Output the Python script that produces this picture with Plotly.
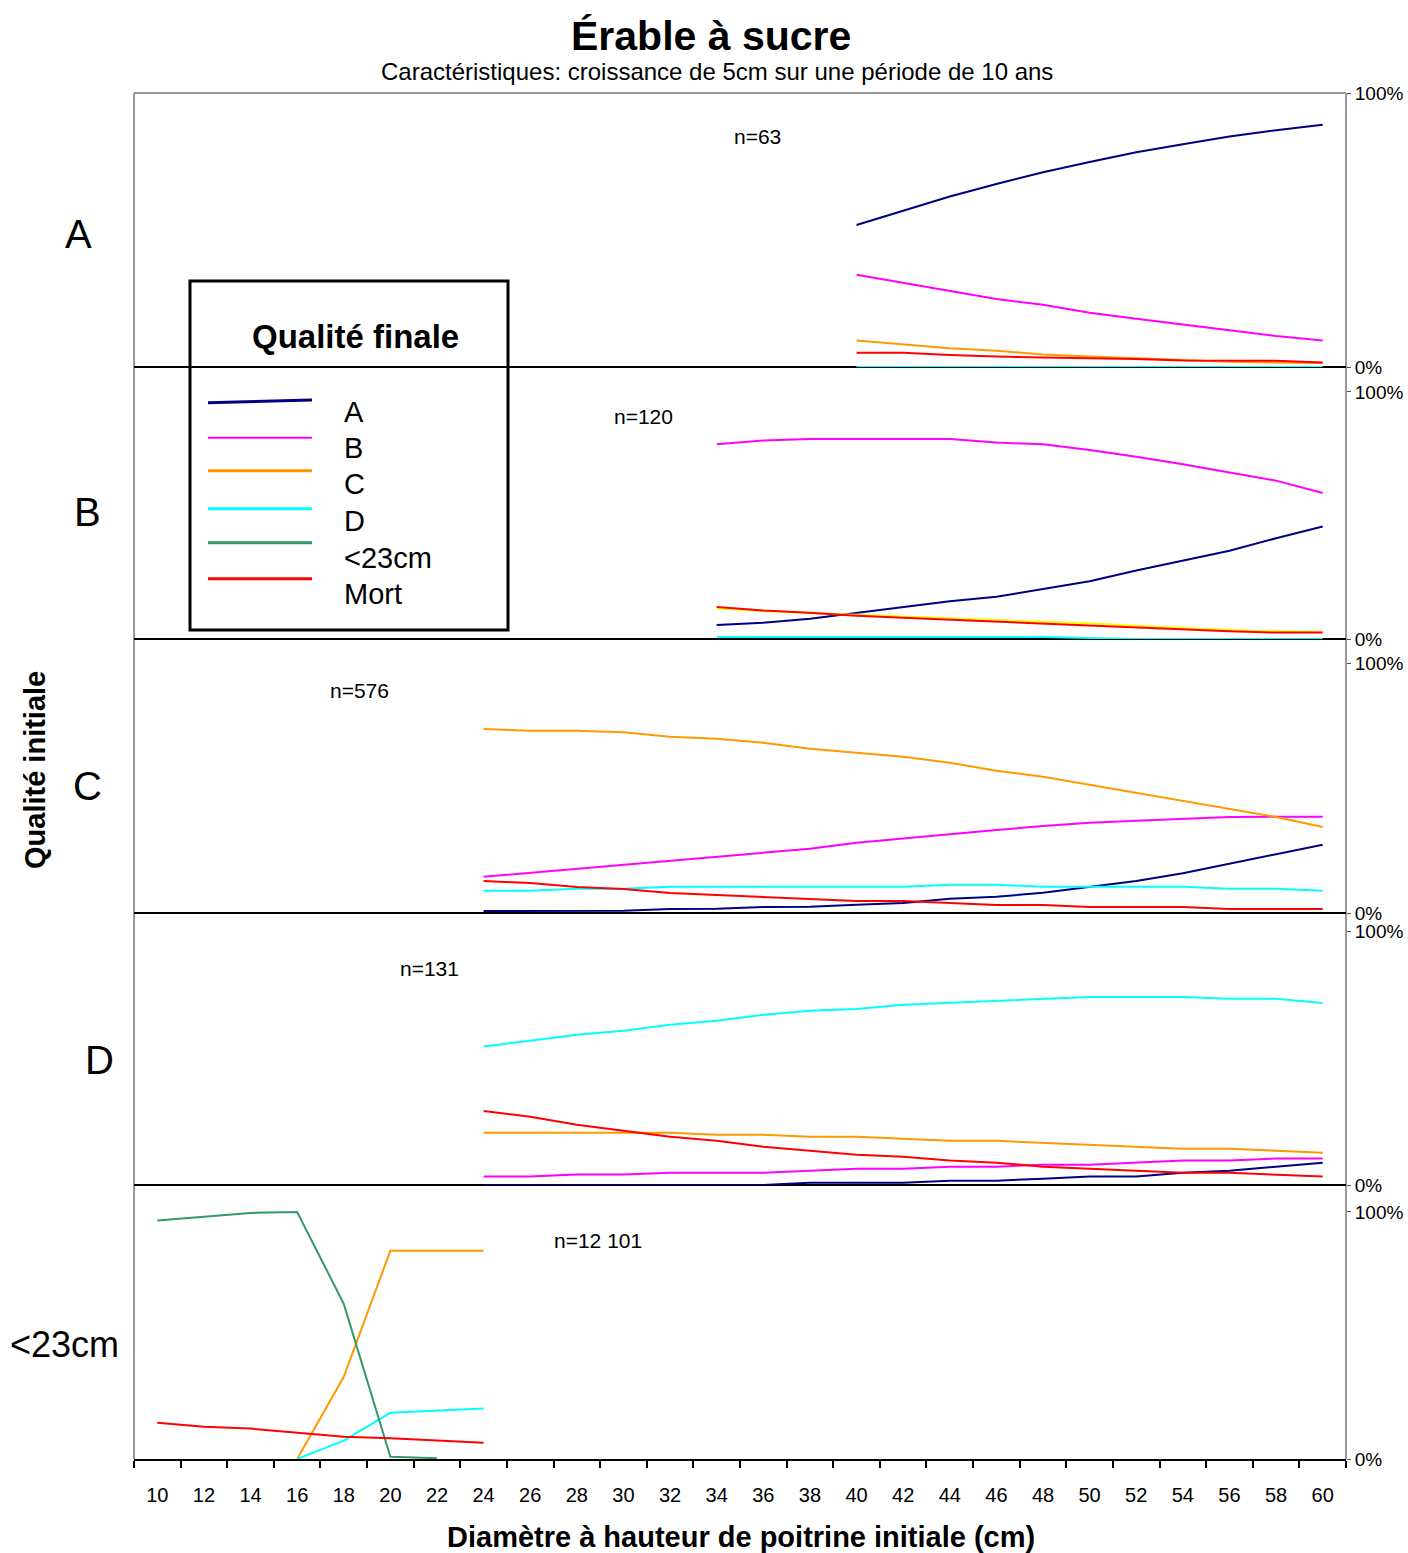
import plotly.graph_objects as go

# ---------------- data ----------------
x_categories = [10, 12, 14, 16, 18, 20, 22, 24, 26, 28, 30, 32, 34, 36, 38, 40, 42, 44, 46, 48, 50, 52, 54, 56, 58, 60]

# Initial quality A (n=63)
x_A = [40, 42, 44, 46, 48, 50, 52, 54, 56, 58, 60]
A_finA = [51.8, 56.9, 62.2, 66.8, 71.1, 74.8, 78.4, 81.3, 84.1, 86.4, 88.4]
A_finB = [33.7, 30.8, 27.8, 24.8, 22.7, 19.8, 17.6, 15.6, 13.4, 11.3, 9.7]
A_finC = [9.7, 8.3, 6.8, 5.9, 4.6, 3.8, 3.2, 2.4, 1.9, 1.6, 1.5]
A_finD = [0, 0, 0, 0, 0, 0, 0, 0, 0, 0, 0]
A_mort = [5.2, 5.2, 4.4, 3.8, 3.5, 3.3, 2.9, 2.4, 2.3, 2.3, 1.6]

# Initial quality B (n=120)
x_B = [34, 36, 38, 40, 42, 44, 46, 48, 50, 52, 54, 56, 58, 60]
B_finA = [5.7, 6.6, 8.2, 10.6, 13.1, 15.3, 17.1, 20.1, 23.4, 27.7, 31.7, 35.7, 40.8, 45.5]
B_finB = [78.8, 80.3, 81.0, 81.0, 81.0, 81.0, 79.5, 78.8, 76.5, 73.8, 70.7, 67.5, 64.1, 59.1]
B_finC = [12.3, 11.3, 10.4, 9.8, 9.0, 8.4, 7.7, 7.0, 6.4, 5.4, 4.5, 3.6, 3.1, 2.8]
B_finD = [0.8, 0.8, 0.8, 0.8, 0.8, 0.8, 0.8, 0.8, 0.4, 0, 0, 0, 0, 0]
B_mort = [13.0, 11.5, 10.6, 9.4, 8.6, 7.8, 7.2, 6.4, 5.5, 4.7, 3.9, 3.1, 2.6, 2.6]

# Initial quality C (n=576)
x_C = [24, 26, 28, 30, 32, 34, 36, 38, 40, 42, 44, 46, 48, 50, 52, 54, 56, 58, 60]
C_finA = [0.8, 0.8, 0.8, 0.9, 1.6, 1.7, 2.4, 2.5, 3.3, 4.0, 5.7, 6.5, 8.1, 10.5, 12.8, 15.9, 19.6, 23.6, 27.3]
C_finB = [14.5, 16.1, 17.9, 19.6, 21.2, 22.8, 24.3, 25.7, 28.1, 29.9, 31.5, 33.2, 34.8, 36.1, 36.9, 37.6, 38.4, 38.5, 38.5]
C_finC = [73.6, 72.9, 72.9, 72.3, 70.5, 69.7, 68.1, 65.7, 64.1, 62.5, 60.1, 56.9, 54.5, 51.3, 48.1, 44.8, 41.6, 38.4, 34.4]
C_finD = [8.9, 8.9, 9.7, 9.7, 10.5, 10.5, 10.5, 10.5, 10.5, 10.5, 11.3, 11.3, 10.5, 10.5, 10.5, 10.5, 9.7, 9.7, 8.9]
C_mort = [12.8, 12.0, 10.4, 9.6, 8.0, 7.2, 6.4, 5.6, 4.8, 4.8, 4.0, 3.2, 3.2, 2.4, 2.4, 2.4, 1.6, 1.6, 1.6]

# Initial quality D (n=131)
x_D = [24, 26, 28, 30, 32, 34, 36, 38, 40, 42, 44, 46, 48, 50, 52, 54, 56, 58, 60]
D_finA = [0, 0, 0, 0, 0, 0, 0, 0.9, 0.9, 0.9, 1.7, 1.7, 2.5, 3.3, 3.3, 4.8, 5.6, 7.2, 8.8]
D_finB = [3.3, 3.3, 4.1, 4.1, 4.8, 4.8, 4.8, 5.6, 6.4, 6.4, 7.2, 7.2, 8.0, 8.0, 8.8, 9.6, 9.6, 10.4, 10.4]
D_finC = [20.6, 20.6, 20.6, 20.6, 20.6, 19.8, 19.8, 19.0, 19.0, 18.2, 17.4, 17.4, 16.7, 15.9, 15.1, 14.3, 14.3, 13.5, 12.7]
D_finD = [54.5, 56.8, 59.2, 60.7, 63.1, 64.7, 67.0, 68.6, 69.3, 71.0, 71.8, 72.4, 73.2, 74.0, 74.0, 74.0, 73.3, 73.3, 71.7]
D_mort = [29.1, 26.9, 23.7, 21.4, 19.0, 17.4, 15.1, 13.5, 11.9, 11.1, 9.6, 8.8, 7.2, 6.4, 5.6, 4.8, 4.8, 4.1, 3.3]

# Initial quality <23cm (n=12 101)
x_E = [10, 12, 14, 16, 18, 20, 22, 24]
E_finC = [None, None, None, 0, 33.3, 84.3, 84.3, 84.3]
E_finD = [None, None, None, 0, 7.4, 18.7, 19.6, 20.4]
E_small = [96.5, 97.9, 99.6, 100.0, 62.8, 0.9, 0.3, None]
E_mort = [14.7, 13.1, 12.3, 10.6, 9.0, 8.4, 7.4, 6.6]

panel_labels = ["A", "B", "C", "D", "<23cm"]
panel_counts = ["n=63", "n=120", "n=576", "n=131", "n=12 101"]
legend_labels = ["A", "B", "C", "D", "<23cm", "Mort"]

# ---------------- styling ----------------
FONT = "Liberation Sans, Arial, sans-serif"
COL = {"A": "#000080", "B": "#FF00FF", "C": "#FF9900", "D": "#00FFFF",
       "<23cm": "#339966", "Mort": "#FF0000", "Cy": "#FFFF00"}

W, H = 1408, 1553
ML, MR, MT, MB = 134, 62, 93, 94
PW = W - ML - MR
PH = H - MT - MB


def px(x):
    return (x - ML) / PW


def py(y):
    return (H - MB - y) / PH


bounds = [93, 367, 639, 913, 1185, 1459]
tops = [100, 110.1, 109.6, 107.1, 110.9]
axis_names = ["y", "y2", "y3", "y4", "y5"]

panels = [
    (x_A, [("A", A_finA, COL["A"]), ("B", A_finB, COL["B"]), ("C", A_finC, COL["C"]),
           ("D", A_finD, COL["D"]), ("Mort", A_mort, COL["Mort"])]),
    (x_B, [("A", B_finA, COL["A"]), ("B", B_finB, COL["B"]), ("C", B_finC, COL["Cy"]),
           ("D", B_finD, COL["D"]), ("Mort", B_mort, COL["Mort"])]),
    (x_C, [("A", C_finA, COL["A"]), ("B", C_finB, COL["B"]), ("C", C_finC, COL["C"]),
           ("D", C_finD, COL["D"]), ("Mort", C_mort, COL["Mort"])]),
    (x_D, [("A", D_finA, COL["A"]), ("B", D_finB, COL["B"]), ("C", D_finC, COL["C"]),
           ("D", D_finD, COL["D"]), ("Mort", D_mort, COL["Mort"])]),
    (x_E, [("C", E_finC, COL["C"]), ("D", E_finD, COL["D"]),
           ("<23cm", E_small, COL["<23cm"]), ("Mort", E_mort, COL["Mort"])]),
]

fig = go.Figure()
for i, (xs, series) in enumerate(panels):
    for name, vals, color in series:
        fig.add_trace(go.Scatter(
            x=xs, y=vals, mode="lines", name=name, showlegend=False,
            line=dict(color=color, width=2), connectgaps=False,
            xaxis="x", yaxis=axis_names[i],
        ))

layout_axes = {}
for i in range(5):
    key = "yaxis" if i == 0 else "yaxis%d" % (i + 1)
    layout_axes[key] = dict(
        domain=[py(bounds[i + 1]), py(bounds[i])],
        range=[0, tops[i]], side="right", anchor="x",
        tickmode="array", tickvals=[0, 100], ticktext=["0%", "100%"],
        ticks="outside", ticklen=4, tickwidth=1, tickcolor="#555555",
        tickfont=dict(size=19, color="black", family=FONT),
        showgrid=False, zeroline=False, showline=False, fixedrange=True,
    )

fig.update_layout(
    width=W, height=H,
    margin=dict(l=ML, r=MR, t=MT, b=MB, autoexpand=False),
    paper_bgcolor="white", plot_bgcolor="white",
    font=dict(family=FONT, color="black"),
    xaxis=dict(
        range=[9, 61], anchor="y5", tickmode="array",
        tickvals=x_categories, ticktext=[str(v) for v in x_categories],
        ticks="outside", ticklen=17, tickcolor="rgba(0,0,0,0)",
        tickfont=dict(size=20, color="black", family=FONT),
        showline=True, linecolor="black", linewidth=2,
        showgrid=False, zeroline=False, fixedrange=True,
        minor=dict(tickmode="array", tickvals=[v - 1 for v in x_categories] + [61],
                   ticks="outside", ticklen=7, tickwidth=2, tickcolor="black",
                   showgrid=False),
    ),
    **layout_axes,
)

shapes = []
# plot frame (gray) left, top, right
for (x0, y0, x1, y1) in [(0, 0, 0, 1), (0, 1, 1, 1), (1, 0, 1, 1)]:
    shapes.append(dict(type="line", xref="paper", yref="paper", x0=x0, y0=y0, x1=x1, y1=y1,
                       line=dict(color="#999999", width=2), layer="below"))
# panel separators (0% lines)
for b in bounds[1:5]:
    shapes.append(dict(type="line", xref="paper", yref="paper", x0=0, x1=1, y0=py(b), y1=py(b),
                       line=dict(color="black", width=2), layer="below"))
# legend box
shapes.append(dict(type="rect", xref="paper", yref="paper",
                   x0=px(190), x1=px(508), y0=py(630), y1=py(281),
                   line=dict(color="black", width=3), fillcolor="rgba(0,0,0,0)", layer="above"))
legend_colors = [COL["A"], COL["B"], COL["C"], COL["D"], COL["<23cm"], COL["Mort"]]
legend_line_y = [(402.7, 400.0), (437.7, 437.7), (470.7, 470.7), (508.7, 508.7), (542.7, 542.7), (578.7, 578.7)]
legend_line_w = [3, 2, 3, 3, 3, 3]
legend_text_y = [412, 448, 484, 521, 558, 594]
for c, (ya, yb), lw in zip(legend_colors, legend_line_y, legend_line_w):
    shapes.append(dict(type="line", xref="paper", yref="paper", x0=px(208), x1=px(312),
                       y0=py(ya), y1=py(yb), line=dict(color=c, width=lw), layer="above"))
fig.update_layout(shapes=shapes)

ann = []


def text(x, y, s, size, bold=False, xanchor="center", angle=0):
    ann.append(dict(x=px(x), y=py(y), xref="paper", yref="paper", showarrow=False,
                    text=("<b>%s</b>" % s) if bold else s, textangle=angle,
                    xanchor=xanchor, yanchor="middle",
                    font=dict(size=size, color="black", family=FONT)))


text(711, 36, "Érable à sucre", 41, bold=True)
text(717, 71, "Caractéristiques: croissance de 5cm sur une période de 10 ans", 24)
text(741, 1537, "Diamètre à hauteur de poitrine initiale (cm)", 29, bold=True)
text(35, 770, "Qualité initiale", 29, bold=True, angle=-90)

label_pos = [(78, 234), (87, 512), (87, 786), (99, 1060), (64, 1344)]
label_size = [40, 40, 40, 40, 36]
for (x, y), s, fs in zip(label_pos, panel_labels, label_size):
    text(x, y, s, fs)
count_pos = [(757, 136), (643, 416), (359, 690), (429, 968), (598, 1240)]
for (x, y), s in zip(count_pos, panel_counts):
    text(x, y, s, 21)

text(355, 336, "Qualité finale", 33, bold=True)
for s, y in zip(legend_labels, legend_text_y):
    text(342, y, s, 29, xanchor="left")

fig.update_layout(annotations=ann)
fig.write_html(
    "out.html",
    config={"displayModeBar": False},
    post_script="document.body.style.margin='0px';document.documentElement.style.overflow='hidden';",
)
